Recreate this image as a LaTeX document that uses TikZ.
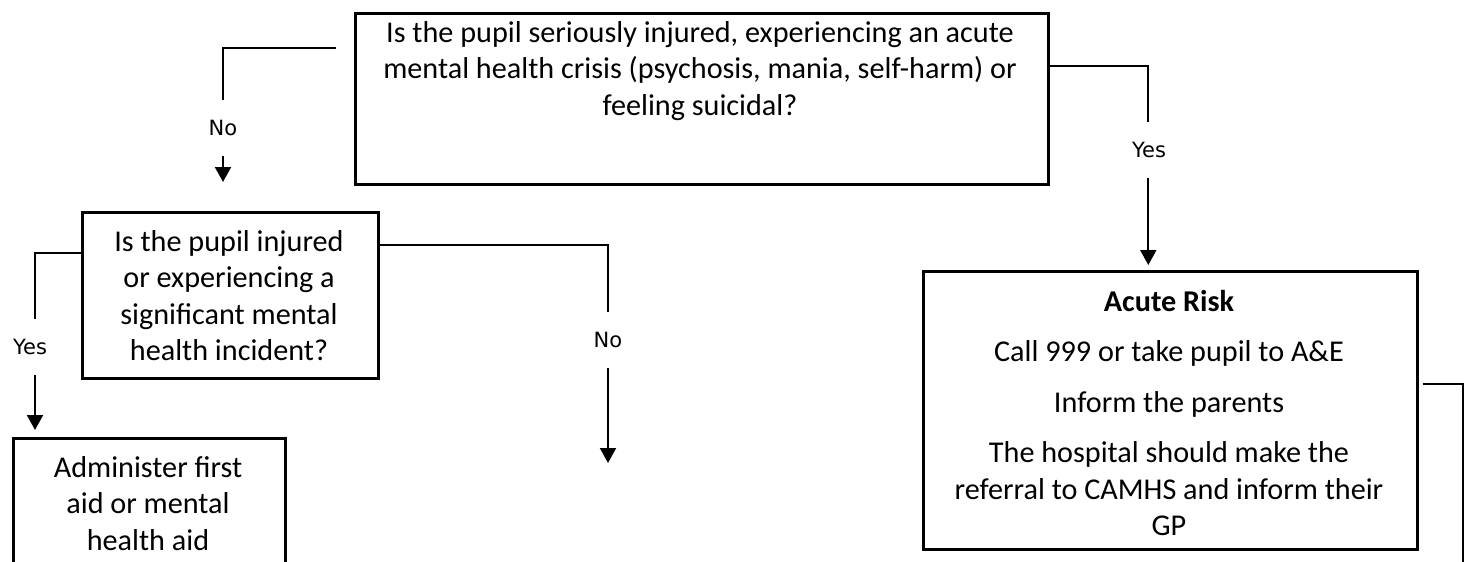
\documentclass[tikz,border=0pt]{standalone}
\usepackage{fontspec}
\setmainfont{Carlito}
\newfontfamily\labelfont{DejaVu Sans}
\usetikzlibrary{arrows.meta,calc}
\begin{document}
\begin{tikzpicture}[x=1pt,y=-1pt,
  box/.style={draw, line width=2.6pt, inner sep=0pt, anchor=north west},
  txt/.style={align=center, inner sep=0pt, anchor=north, font=\fontsize{30.2}{36.5}\selectfont},
  lbl/.style={inner sep=0pt, minimum height=55pt, font=\labelfont\fontsize{21}{25}\selectfont},
  conn/.style={line width=2pt},
  arr/.style={conn, -{Triangle[length=15pt,width=16pt]}}]
\useasboundingbox (0,0) rectangle (1468,562);
\clip (0,0) rectangle (1468,562);

% boxes
\node[box, minimum width=693pt, minimum height=171pt] (q1) at (354,12) {};
\node[box, minimum width=296pt, minimum height=166pt] (q2) at (81,211) {};
\node[box, minimum width=272pt, minimum height=200pt] (a1) at (12,437) {};
\node[box, minimum width=494pt, minimum height=278pt] (acute) at (922,270) {};

% texts
\node[txt] (q1t) at (700,21) {Is the pupil seriously injured, experiencing an acute\\mental health crisis (psychosis, mania, self-harm) or\\feeling suicidal?};
\node[txt] (q2t) at (229,230) {Is the pupil injured\\or experiencing a\\significant mental\\health incident?};
\node[txt] (a1t) at (148,456) {Administer first\\aid or mental\\health aid};
\node[txt] (acutet) at (1169,290) {\textbf{Acute Risk}\\[14pt]Call 999 or take pupil to A\&E\\[14pt]Inform the parents\\[14pt]The hospital should make the\\referral to CAMHS and inform their\\GP};

% labels
\node[lbl] (no1) at (223,128) {No};
\node[lbl] (yes1) at (1149,150) {Yes};
\node[lbl] (yes2) at (30,347) {Yes};
\node[lbl] (no2) at (608,340) {No};

% coordinates
\coordinate (q1l) at ($(q1.north west)+(-18,36)$);
\coordinate (no1e) at (223,182);
\coordinate (yes1e) at ($(acute.north)+(-22,-5)$);
\coordinate (yes2e) at ($(a1.north west)+(23,-7)$);
\coordinate (no2e) at (608,463);
\coordinate (ars) at ($(acute.north east)+(4,114)$);
\coordinate (are) at (1463,590);

% connectors
\draw[conn] (q1l) -| (no1e |- no1.north);
\draw[arr] (no1.south) -- (no1e);
\draw[conn] (q1.east |- 0,66) -| (yes1e |- yes1.north);
\draw[arr] (yes1e |- yes1.south) -- (yes1e);
\draw[conn] (q2.west |- 0,253) -| (yes2e |- yes2.north);
\draw[arr] (yes2e |- yes2.south) -- (yes2e);
\draw[conn] (q2.east |- 0,245) -| (no2.north);
\draw[arr] (no2.south) -- (no2e);
\draw[conn] (ars) -| (are);
\end{tikzpicture}
\end{document}
